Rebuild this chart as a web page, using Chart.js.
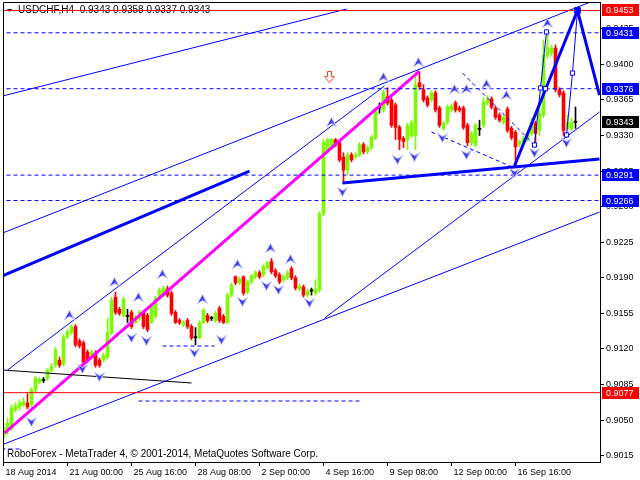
<!DOCTYPE html>
<html>
<head>
<meta charset="utf-8">
<script src="https://cdn.jsdelivr.net/npm/chart.js@4.4.1/dist/chart.umd.min.js"></script>
<style>
  html, body { margin: 0; padding: 0; background: #fff; }
  canvas { display: block; }
</style>
</head>
<body>
<canvas id="chart" width="640" height="480"></canvas>
<script>
'use strict';

// USDCHF H4 candles, prices in pips (x 0.0001)
var opens = [9033,9040,9042,9060,9063,9065,9067,9065,9080,9087,9089,9091,9099,9104,9109,9105,9132,9136,9142,9128,
  9126,9117,9114,9116,9109,9109,9112,9136,9171,9159,9153,9152,9156,9146,9150,9156,9153,9146,9152,9171,
  9173,9179,9175,9156,9148,9144,9148,9142,9131,9131,9146,9153,9150,9148,9160,9152,9146,9173,9191,9185,
  9191,9176,9186,9191,9195,9193,9200,9206,9197,9193,9188,9190,9199,9190,9179,9181,9173,9177,9175,9178,
  9253,9316,9318,9326,9323,9309,9296,9311,9309,9311,9321,9314,9318,9327,9357,9355,9368,9365,9360,9338,
  9327,9326,9330,9330,9382,9375,9367,9365,9372,9357,9337,9343,9355,9362,9357,9357,9340,9323,9321,9336,
  9340,9362,9366,9357,9350,9343,9356,9337,9333,9321,9324,9326,9332,9342,9335,9350,9409,9411,9416,9375,
  9372,9337,9337,9343];
var highs = [9046,9052,9065,9067,9070,9072,9076,9082,9093,9092,9092,9101,9106,9122,9112,9134,9139,9144,9144,9130,
  9128,9119,9119,9118,9111,9116,9150,9171,9176,9161,9171,9159,9158,9153,9158,9158,9155,9164,9172,9180,
  9182,9182,9177,9158,9150,9148,9150,9144,9141,9148,9160,9155,9152,9157,9162,9154,9175,9185,9192,9191,
  9192,9188,9193,9197,9197,9203,9206,9209,9199,9195,9193,9197,9201,9192,9184,9183,9179,9180,9188,9255,
  9326,9327,9327,9327,9325,9313,9313,9313,9313,9323,9323,9320,9330,9357,9362,9375,9377,9367,9362,9340,
  9329,9342,9345,9392,9392,9380,9369,9374,9374,9359,9344,9360,9361,9364,9359,9359,9342,9334,9342,9345,
  9367,9369,9368,9359,9352,9350,9358,9339,9335,9326,9329,9334,9347,9344,9360,9424,9430,9419,9419,9377,
  9374,9350,9347,9358];
var lows = [9027,9036,9040,9058,9060,9063,9061,9063,9078,9086,9087,9089,9097,9102,9102,9103,9130,9134,9122,9121,
  9105,9107,9112,9102,9102,9107,9110,9134,9154,9153,9151,9146,9140,9145,9148,9140,9137,9145,9150,9169,
  9171,9171,9153,9145,9144,9142,9140,9129,9124,9130,9145,9146,9148,9146,9146,9145,9145,9171,9183,9183,
  9173,9174,9184,9189,9189,9191,9198,9194,9190,9184,9186,9188,9188,9178,9177,9171,9171,9173,9173,9176,
  9251,9314,9316,9319,9304,9283,9291,9304,9307,9309,9312,9312,9316,9326,9352,9353,9360,9338,9326,9316,
  9318,9316,9328,9316,9375,9363,9358,9363,9353,9338,9335,9341,9353,9353,9353,9336,9320,9320,9319,9330,
  9338,9360,9356,9346,9343,9341,9333,9326,9301,9319,9322,9324,9330,9321,9330,9348,9406,9408,9373,9368,
  9330,9335,9335,9337];
var closes = [9043,9047,9062,9064,9067,9068,9063,9080,9091,9090,9089,9099,9103,9119,9104,9132,9137,9142,9124,9123,
  9107,9109,9117,9104,9104,9114,9136,9168,9156,9155,9169,9152,9142,9151,9156,9142,9139,9162,9170,9178,
  9180,9173,9155,9146,9146,9146,9142,9131,9131,9146,9158,9148,9150,9155,9148,9146,9173,9183,9185,9189,
  9175,9186,9192,9195,9191,9201,9205,9196,9192,9186,9191,9195,9190,9180,9182,9173,9177,9177,9179,9253,
  9323,9326,9326,9321,9306,9296,9311,9306,9311,9321,9314,9318,9328,9355,9357,9372,9362,9340,9338,9326,
  9324,9340,9343,9380,9378,9365,9360,9372,9355,9340,9342,9358,9359,9355,9355,9338,9323,9332,9340,9336,
  9363,9365,9358,9348,9345,9348,9335,9328,9319,9324,9327,9332,9343,9332,9352,9409,9417,9416,9375,9370,
  9335,9343,9343,9343];

var xTickBars = [0, 16, 32, 48, 64, 80, 96, 112, 128];
var xTickLabels = ['18 Aug 2014', '21 Aug 00:00', '25 Aug 16:00', '28 Aug 08:00', '2 Sep 00:00',
  '4 Sep 16:00', '9 Sep 08:00', '12 Sep 00:00', '16 Sep 16:00'];
var yTicks = [0.9015, 0.9050, 0.9085, 0.9120, 0.9155, 0.9190, 0.9225, 0.9260, 0.9295, 0.9330, 0.9365, 0.9400, 0.9435];

// horizontal levels with their price tags
var levels = [0.9453, 0.9431, 0.9376, 0.9291, 0.9266, 0.9077];
var levelColors = ['#ff0000', '#0000ff', '#0000ff', '#0000ff', '#0000ff', '#ff0000'];
var levelDashed = [false, true, true, true, true, false];
var lastPrice = 0.9343;

// trend lines: [bar, price] pairs
var lineA = [[-0.25, 0.93688], [85.75, 0.94544]];
var lineB = [[-0.25, 0.92340], [146.75, 0.94613]];
var lineThickC = [[-0.25, 0.91920], [61.5, 0.92950]];
var lineD = [[1, 0.90993], [95.25, 0.93787]];
var lineE = [[-0.5, 0.90255], [149, 0.92547]];
var lineF = [[80.25, 0.91504], [149, 0.93531]];
var lineThickG = [[84.75, 0.92832], [149, 0.93068]];
var magentaLine = [[0.25, 0.90373], [104, 0.93934]];
var blackLine = [[-0.25, 0.90993], [47, 0.90865]];
var zigzag = [[127.75, 0.93000], [143.5, 0.9453], [149, 0.93698]];
var waveOne = [[132.75, 0.93206], [134.25, 0.93767], [135.75, 0.94318]];
var waveTwo = [[140.75, 0.93305], [142.25, 0.93914], [143.5, 0.9453]];
var dashUpper = [[114.75, 0.93914], [132.75, 0.93206]];
var dashLower = [[107, 0.93334], [127.75, 0.92980]];
var dashShort1 = [[39.75, 0.91229], [52.75, 0.91229]];
var dashShort2 = [[33.75, 0.90688], [89.75, 0.90688]];
var dashShort3 = [[-0.5, 0.90216], [4, 0.90216]];

var waveMarks = [[132.75, 0.93206], [134.25, 0.93767], [135.5, 0.9376], [135.75, 0.94318], [140.75, 0.93305], [142.25, 0.93914]];
var apexMark = [[143.5, 0.9453]];

// fractal arrows
var fractalUpX = [16.5, 27.75, 33.75, 39.75, 49.75, 58.5, 66.75, 71.75, 82, 95, 103.75, 112.75, 115.75, 120.75, 125.75, 136];
var fractalUpY = [0.91534, 0.91859, 0.91711, 0.91937, 0.91691, 0.92036, 0.92193, 0.92085, 0.93432, 0.93875, 0.94023,
  0.93757, 0.93757, 0.93806, 0.93698, 0.94406];
var fractalDownX = [7, 19.75, 24, 32, 35.75, 47.75, 54.5, 59.75, 65.75, 68.75, 76.5, 84.75, 98.5, 102.75, 109.75,
  115.75, 127.75, 132.75, 140.75];
var fractalDownY = [0.90481, 0.91003, 0.90924, 0.91308, 0.91278, 0.91160, 0.91288, 0.91662, 0.91819, 0.91780, 0.91652,
  0.92744, 0.93059, 0.93088, 0.93275, 0.93108, 0.92931, 0.93128, 0.93226];
var sellArrow = [[81.5, 0.93875]];

var headerText = 'USDCHF,H4  0.9343 0.9358 0.9337 0.9343';
var footerText = 'RoboForex - MetaTrader 4, \u00a9 2001-2014, MetaQuotes Software Corp.';

var font = '"Liberation Sans", Arial, sans-serif';

function pts(pairs) {
  return pairs.map(function(p) { return { x: p[0], y: p[1] }; });
}

function candleColor(i) {
  if (closes[i] > opens[i]) return '#7cfc00';
  if (closes[i] < opens[i]) return '#ff0000';
  return '#000000';
}

function makeFractal(up) {
  var c = document.createElement('canvas');
  c.width = 11;
  c.height = 10;
  var g = c.getContext('2d');
  g.beginPath();
  if (up) {
    g.moveTo(0.5, 9.5); g.lineTo(5.5, 0.5); g.lineTo(10.5, 9.5); g.lineTo(5.5, 6.5);
  } else {
    g.moveTo(0.5, 0.5); g.lineTo(5.5, 3.5); g.lineTo(10.5, 0.5); g.lineTo(5.5, 9.5);
  }
  g.closePath();
  var grad = g.createLinearGradient(0, 0, 11, 0);
  grad.addColorStop(0, '#1c1cd8');
  grad.addColorStop(0.5, '#3a3af0');
  grad.addColorStop(1, '#a8a8ff');
  g.fillStyle = grad;
  g.fill();
  g.strokeStyle = '#c4c4ff';
  g.lineWidth = 1;
  g.stroke();
  return c;
}

function makeSellArrow() {
  var c = document.createElement('canvas');
  c.width = 11;
  c.height = 12;
  var g = c.getContext('2d');
  g.beginPath();
  g.moveTo(3.5, 0.5); g.lineTo(7.5, 0.5); g.lineTo(7.5, 5.5); g.lineTo(10.5, 5.5);
  g.lineTo(5.5, 11.5); g.lineTo(0.5, 5.5); g.lineTo(3.5, 5.5);
  g.closePath();
  g.fillStyle = '#fff';
  g.fill();
  g.strokeStyle = '#ff4a1c';
  g.lineWidth = 1;
  g.stroke();
  return c;
}

// stop the scales from pushing the plot area in for their labels
function noScalePadding(scale) {
  scale.paddingTop = 0;
  scale.paddingBottom = 0;
  scale.paddingLeft = 0;
  scale.paddingRight = 0;
}

var bars = opens.map(function(v, i) { return i; });
var colors = bars.map(candleColor);

var datasets = [];

function addLine(pairs, color, width, dash) {
  datasets.push({
    type: 'line',
    data: pts(pairs),
    borderColor: color,
    borderWidth: width,
    borderDash: dash || [],
    pointRadius: 0,
    fill: false,
    tension: 0,
    order: 2
  });
}

// fractals and markers on top
datasets.push({
  type: 'line', data: fractalUpX.map(function(x, k) { return { x: x, y: fractalUpY[k] }; }),
  showLine: false, pointStyle: makeFractal(true), pointRadius: 5, order: 0
});
datasets.push({
  type: 'line', data: fractalDownX.map(function(x, k) { return { x: x, y: fractalDownY[k] }; }),
  showLine: false, pointStyle: makeFractal(false), pointRadius: 5, order: 0
});
datasets.push({
  type: 'line', data: pts(sellArrow), showLine: false, pointStyle: makeSellArrow(), pointRadius: 5, order: 0
});
datasets.push({
  type: 'line', data: pts(waveMarks), showLine: false, pointStyle: 'rect', pointRadius: 3,
  pointBackgroundColor: '#fff', pointBorderColor: '#0000ff', pointBorderWidth: 1, order: 0
});
datasets.push({
  type: 'line', data: pts(apexMark), showLine: false, pointStyle: 'rect', pointRadius: 4,
  pointBackgroundColor: '#0000ff', pointBorderColor: '#0000ff', order: 0
});

levels.forEach(function(v, k) {
  addLine([[-1, v], [150, v]], levelColors[k], 1, levelDashed[k] ? [4, 3] : []);
});

addLine(lineA, '#0000ff', 1);
addLine(lineB, '#0000ff', 1);
addLine(lineD, '#0000ff', 1);
addLine(lineE, '#0000ff', 1);
addLine(lineF, '#0000ff', 1);
addLine(lineThickC, '#0000ff', 3);
addLine(lineThickG, '#0000ff', 3);
addLine(zigzag, '#0000ff', 3);
addLine(waveOne, '#0000ff', 1);
addLine(waveTwo, '#0000ff', 1);
addLine(dashUpper, '#0000ff', 1, [4, 3]);
addLine(dashLower, '#0000ff', 1, [4, 3]);
addLine(dashShort1, '#0000ff', 1, [4, 3]);
addLine(dashShort2, '#0000ff', 1, [4, 3]);
addLine(dashShort3, '#0000ff', 1, [4, 3]);
addLine(blackLine, '#000000', 1);
addLine(magentaLine, '#ff00ff', 3);

// candles: wick then body
datasets.push({
  type: 'bar',
  data: bars.map(function(i) { return { x: i, y: [lows[i] / 1e4, highs[i] / 1e4] }; }),
  backgroundColor: colors,
  borderWidth: 0,
  barThickness: 1,
  grouped: false,
  order: 6
});
datasets.push({
  type: 'bar',
  data: bars.map(function(i) { return { x: i, y: [opens[i] / 1e4, closes[i] / 1e4] }; }),
  backgroundColor: colors,
  borderWidth: 0,
  barThickness: 3,
  minBarLength: 1,
  grouped: false,
  order: 5
});

var overlay = {
  id: 'mt4Overlay',
  beforeDatasetsDraw: function(chart) {
    var ctx = chart.ctx;
    var area = chart.chartArea;
    ctx.save();
    ctx.fillStyle = '#000';
    ctx.beginPath();
    ctx.moveTo(area.left + 4, area.top + 7);
    ctx.lineTo(area.left + 9, area.top + 7);
    ctx.lineTo(area.left + 6.5, area.top + 10);
    ctx.closePath();
    ctx.fill();
    ctx.font = '10px ' + font;
    ctx.textBaseline = 'middle';
    ctx.fillText(headerText, area.left + 15, area.top + 8.5);
    ctx.fillText(footerText, area.left + 4, area.bottom - 8);
    ctx.restore();
  },
  afterDraw: function(chart) {
    var ctx = chart.ctx;
    var area = chart.chartArea;
    var y = chart.scales.y;
    ctx.save();
    ctx.strokeStyle = '#000';
    ctx.lineWidth = 1;
    ctx.beginPath();
    ctx.moveTo(area.left + 0.5, area.bottom);
    ctx.lineTo(area.left + 0.5, area.top + 0.5);
    ctx.lineTo(area.right, area.top + 0.5);
    ctx.stroke();

    ctx.font = '9px ' + font;
    ctx.textBaseline = 'middle';
    var tags = levels.concat([lastPrice]);
    var tagColors = levelColors.concat(['#000000']);
    tags.forEach(function(v, k) {
      var py = Math.round(y.getPixelForValue(v));
      ctx.fillStyle = tagColors[k];
      ctx.fillRect(y.left + 2, py - 6, 37, 12);
      ctx.fillStyle = '#fff';
      ctx.fillText(v.toFixed(4), y.left + 6, py + 0.5);
    });
    ctx.restore();
  }
};

new Chart(document.getElementById('chart').getContext('2d'), {
  type: 'bar',
  data: { datasets: datasets },
  options: {
    responsive: false,
    animation: false,
    devicePixelRatio: 1,
    layout: { autoPadding: false, padding: { left: 3, top: 2, right: 0, bottom: 0 } },
    plugins: { legend: { display: false }, tooltip: { enabled: false } },
    scales: {
      x: {
        type: 'linear',
        position: 'bottom',
        offset: false,
        min: -0.125,
        max: 149.125,
        grid: { display: true, drawOnChartArea: false, offset: false, tickLength: 4, color: '#000' },
        border: { display: true, color: '#000' },
        afterBuildTicks: function(scale) {
          scale.ticks = xTickBars.map(function(v) { return { value: v }; });
        },
        afterFit: function(scale) {
          scale.height = 18;
          noScalePadding(scale);
        },
        ticks: {
          autoSkip: false,
          maxRotation: 0,
          align: 'start',
          labelOffset: 2,
          padding: 1,
          color: '#000',
          font: { family: font, size: 9 },
          callback: function(v) {
            var k = xTickBars.indexOf(v);
            return k >= 0 ? xTickLabels[k] : '';
          }
        }
      },
      y: {
        type: 'linear',
        position: 'right',
        min: 0.90088,
        max: 0.94613,
        grid: { display: true, drawOnChartArea: false, tickLength: 4, color: '#000' },
        border: { display: true, color: '#000' },
        afterBuildTicks: function(scale) {
          scale.ticks = yTicks.map(function(v) { return { value: v }; });
        },
        afterFit: function(scale) {
          scale.width = 40;
          noScalePadding(scale);
        },
        ticks: {
          padding: 2,
          color: '#000',
          font: { family: font, size: 9 },
          callback: function(v) { return v.toFixed(4); }
        }
      }
    }
  },
  plugins: [overlay]
});
</script>
</body>
</html>
